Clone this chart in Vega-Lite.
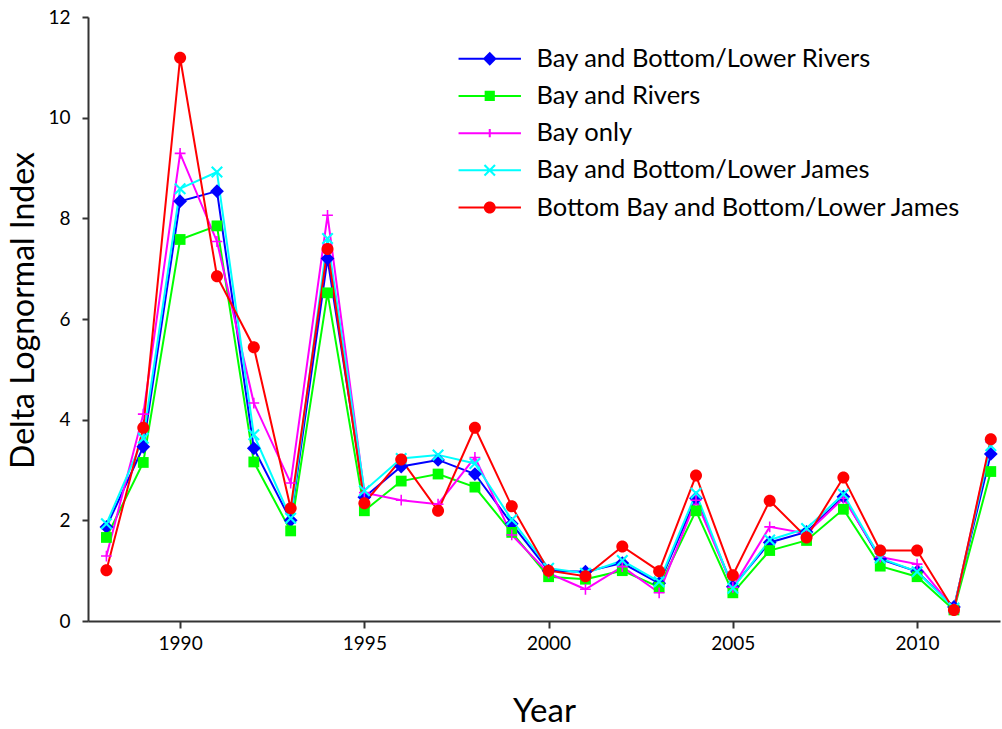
{
  "$schema": "https://vega.github.io/schema/vega-lite/v6.json",
  "width": 912,
  "height": 604,
  "autosize": {"type": "none"},
  "padding": {"left": 88, "top": 17, "right": 2, "bottom": 108},
  "background": "white",
  "config": {"view": {"stroke": null}, "font": "Lato"},
  "data": {"values": [
    {"Year":1988,"Series":"Bay and Bottom/Lower Rivers","Value":1.87},{"Year":1988,"Series":"Bay and Rivers","Value":1.66},{"Year":1988,"Series":"Bay only","Value":1.29},{"Year":1988,"Series":"Bay and Bottom/Lower James","Value":1.93},{"Year":1988,"Series":"Bottom Bay and Bottom/Lower James","Value":1.01},
    {"Year":1989,"Series":"Bay and Bottom/Lower Rivers","Value":3.46},{"Year":1989,"Series":"Bay and Rivers","Value":3.15},{"Year":1989,"Series":"Bay only","Value":4.11},{"Year":1989,"Series":"Bay and Bottom/Lower James","Value":3.63},{"Year":1989,"Series":"Bottom Bay and Bottom/Lower James","Value":3.84},
    {"Year":1990,"Series":"Bay and Bottom/Lower Rivers","Value":8.34},{"Year":1990,"Series":"Bay and Rivers","Value":7.58},{"Year":1990,"Series":"Bay only","Value":9.29},{"Year":1990,"Series":"Bay and Bottom/Lower James","Value":8.59},{"Year":1990,"Series":"Bottom Bay and Bottom/Lower James","Value":11.19},
    {"Year":1991,"Series":"Bay and Bottom/Lower Rivers","Value":8.54},{"Year":1991,"Series":"Bay and Rivers","Value":7.85},{"Year":1991,"Series":"Bay only","Value":7.54},{"Year":1991,"Series":"Bay and Bottom/Lower James","Value":8.92},{"Year":1991,"Series":"Bottom Bay and Bottom/Lower James","Value":6.85},
    {"Year":1992,"Series":"Bay and Bottom/Lower Rivers","Value":3.43},{"Year":1992,"Series":"Bay and Rivers","Value":3.16},{"Year":1992,"Series":"Bay only","Value":4.33},{"Year":1992,"Series":"Bay and Bottom/Lower James","Value":3.70},{"Year":1992,"Series":"Bottom Bay and Bottom/Lower James","Value":5.44},
    {"Year":1993,"Series":"Bay and Bottom/Lower Rivers","Value":2.00},{"Year":1993,"Series":"Bay and Rivers","Value":1.79},{"Year":1993,"Series":"Bay only","Value":2.74},{"Year":1993,"Series":"Bay and Bottom/Lower James","Value":2.04},{"Year":1993,"Series":"Bottom Bay and Bottom/Lower James","Value":2.24},
    {"Year":1994,"Series":"Bay and Bottom/Lower Rivers","Value":7.20},{"Year":1994,"Series":"Bay and Rivers","Value":6.52},{"Year":1994,"Series":"Bay only","Value":8.06},{"Year":1994,"Series":"Bay and Bottom/Lower James","Value":7.60},{"Year":1994,"Series":"Bottom Bay and Bottom/Lower James","Value":7.39},
    {"Year":1995,"Series":"Bay and Bottom/Lower Rivers","Value":2.46},{"Year":1995,"Series":"Bay and Rivers","Value":2.19},{"Year":1995,"Series":"Bay only","Value":2.55},{"Year":1995,"Series":"Bay and Bottom/Lower James","Value":2.59},{"Year":1995,"Series":"Bottom Bay and Bottom/Lower James","Value":2.34},
    {"Year":1996,"Series":"Bay and Bottom/Lower Rivers","Value":3.07},{"Year":1996,"Series":"Bay and Rivers","Value":2.78},{"Year":1996,"Series":"Bay only","Value":2.40},{"Year":1996,"Series":"Bay and Bottom/Lower James","Value":3.23},{"Year":1996,"Series":"Bottom Bay and Bottom/Lower James","Value":3.21},
    {"Year":1997,"Series":"Bay and Bottom/Lower Rivers","Value":3.20},{"Year":1997,"Series":"Bay and Rivers","Value":2.92},{"Year":1997,"Series":"Bay only","Value":2.32},{"Year":1997,"Series":"Bay and Bottom/Lower James","Value":3.30},{"Year":1997,"Series":"Bottom Bay and Bottom/Lower James","Value":2.19},
    {"Year":1998,"Series":"Bay and Bottom/Lower Rivers","Value":2.92},{"Year":1998,"Series":"Bay and Rivers","Value":2.66},{"Year":1998,"Series":"Bay only","Value":3.25},{"Year":1998,"Series":"Bay and Bottom/Lower James","Value":3.13},{"Year":1998,"Series":"Bottom Bay and Bottom/Lower James","Value":3.84},
    {"Year":1999,"Series":"Bay and Bottom/Lower Rivers","Value":1.93},{"Year":1999,"Series":"Bay and Rivers","Value":1.76},{"Year":1999,"Series":"Bay only","Value":1.71},{"Year":1999,"Series":"Bay and Bottom/Lower James","Value":2.01},{"Year":1999,"Series":"Bottom Bay and Bottom/Lower James","Value":2.28},
    {"Year":2000,"Series":"Bay and Bottom/Lower Rivers","Value":1.00},{"Year":2000,"Series":"Bay and Rivers","Value":0.88},{"Year":2000,"Series":"Bay only","Value":0.95},{"Year":2000,"Series":"Bay and Bottom/Lower James","Value":1.05},{"Year":2000,"Series":"Bottom Bay and Bottom/Lower James","Value":1.00},
    {"Year":2001,"Series":"Bay and Bottom/Lower Rivers","Value":0.98},{"Year":2001,"Series":"Bay and Rivers","Value":0.83},{"Year":2001,"Series":"Bay only","Value":0.63},{"Year":2001,"Series":"Bay and Bottom/Lower James","Value":0.95},{"Year":2001,"Series":"Bottom Bay and Bottom/Lower James","Value":0.89},
    {"Year":2002,"Series":"Bay and Bottom/Lower Rivers","Value":1.15},{"Year":2002,"Series":"Bay and Rivers","Value":1.00},{"Year":2002,"Series":"Bay only","Value":1.08},{"Year":2002,"Series":"Bay and Bottom/Lower James","Value":1.20},{"Year":2002,"Series":"Bottom Bay and Bottom/Lower James","Value":1.48},
    {"Year":2003,"Series":"Bay and Bottom/Lower Rivers","Value":0.75},{"Year":2003,"Series":"Bay and Rivers","Value":0.67},{"Year":2003,"Series":"Bay only","Value":0.56},{"Year":2003,"Series":"Bay and Bottom/Lower James","Value":0.78},{"Year":2003,"Series":"Bottom Bay and Bottom/Lower James","Value":0.99},
    {"Year":2004,"Series":"Bay and Bottom/Lower Rivers","Value":2.44},{"Year":2004,"Series":"Bay and Rivers","Value":2.19},{"Year":2004,"Series":"Bay only","Value":2.40},{"Year":2004,"Series":"Bay and Bottom/Lower James","Value":2.54},{"Year":2004,"Series":"Bottom Bay and Bottom/Lower James","Value":2.89},
    {"Year":2005,"Series":"Bay and Bottom/Lower Rivers","Value":0.68},{"Year":2005,"Series":"Bay and Rivers","Value":0.56},{"Year":2005,"Series":"Bay only","Value":0.67},{"Year":2005,"Series":"Bay and Bottom/Lower James","Value":0.65},{"Year":2005,"Series":"Bottom Bay and Bottom/Lower James","Value":0.91},
    {"Year":2006,"Series":"Bay and Bottom/Lower Rivers","Value":1.56},{"Year":2006,"Series":"Bay and Rivers","Value":1.40},{"Year":2006,"Series":"Bay only","Value":1.87},{"Year":2006,"Series":"Bay and Bottom/Lower James","Value":1.61},{"Year":2006,"Series":"Bottom Bay and Bottom/Lower James","Value":2.39},
    {"Year":2007,"Series":"Bay and Bottom/Lower Rivers","Value":1.77},{"Year":2007,"Series":"Bay and Rivers","Value":1.60},{"Year":2007,"Series":"Bay only","Value":1.74},{"Year":2007,"Series":"Bay and Bottom/Lower James","Value":1.84},{"Year":2007,"Series":"Bottom Bay and Bottom/Lower James","Value":1.66},
    {"Year":2008,"Series":"Bay and Bottom/Lower Rivers","Value":2.47},{"Year":2008,"Series":"Bay and Rivers","Value":2.22},{"Year":2008,"Series":"Bay only","Value":2.44},{"Year":2008,"Series":"Bay and Bottom/Lower James","Value":2.52},{"Year":2008,"Series":"Bottom Bay and Bottom/Lower James","Value":2.85},
    {"Year":2009,"Series":"Bay and Bottom/Lower Rivers","Value":1.23},{"Year":2009,"Series":"Bay and Rivers","Value":1.09},{"Year":2009,"Series":"Bay only","Value":1.27},{"Year":2009,"Series":"Bay and Bottom/Lower James","Value":1.25},{"Year":2009,"Series":"Bottom Bay and Bottom/Lower James","Value":1.40},
    {"Year":2010,"Series":"Bay and Bottom/Lower Rivers","Value":0.98},{"Year":2010,"Series":"Bay and Rivers","Value":0.88},{"Year":2010,"Series":"Bay only","Value":1.13},{"Year":2010,"Series":"Bay and Bottom/Lower James","Value":0.98},{"Year":2010,"Series":"Bottom Bay and Bottom/Lower James","Value":1.40},
    {"Year":2011,"Series":"Bay and Bottom/Lower Rivers","Value":0.28},{"Year":2011,"Series":"Bay and Rivers","Value":0.22},{"Year":2011,"Series":"Bay only","Value":0.24},{"Year":2011,"Series":"Bay and Bottom/Lower James","Value":0.26},{"Year":2011,"Series":"Bottom Bay and Bottom/Lower James","Value":0.22},
    {"Year":2012,"Series":"Bay and Bottom/Lower Rivers","Value":3.32},{"Year":2012,"Series":"Bay and Rivers","Value":2.97},{"Year":2012,"Series":"Bay only","Value":3.55},{"Year":2012,"Series":"Bay and Bottom/Lower James","Value":3.48},{"Year":2012,"Series":"Bottom Bay and Bottom/Lower James","Value":3.61}
  ]},
  "encoding": {
    "x": {
      "field": "Year", "type": "quantitative",
      "scale": {"domain": [1987.5, 2012.25], "nice": false, "zero": false},
      "axis": {
        "values": [1990, 1995, 2000, 2005, 2010], "format": "d", "grid": false,
        "title": "Year", "titleFont": "Lato", "titleFontSize": 33, "titleFontWeight": "normal", "titleColor": "black", "titlePadding": 42,
        "labelFont": "Lato", "labelFontSize": 19, "labelColor": "black", "labelPadding": 6,
        "tickSize": 7, "tickWidth": 2, "tickColor": "#333333", "domainColor": "#333333", "domainWidth": 2
      }
    },
    "y": {
      "field": "Value", "type": "quantitative",
      "scale": {"domain": [0, 12], "nice": false},
      "axis": {
        "values": [0, 2, 4, 6, 8, 10, 12], "grid": false,
        "title": "Delta Lognormal Index", "titleFont": "Lato", "titleFontSize": 32, "titleFontWeight": "normal", "titleColor": "black", "titlePadding": 7, "titleY": 293,
        "labelFont": "Lato", "labelFontSize": 19, "labelColor": "black", "labelPadding": 12,
        "tickSize": 6, "tickWidth": 2, "tickColor": "#333333", "domainColor": "#333333", "domainWidth": 2
      }
    },
    "color": {
      "field": "Series", "type": "nominal",
      "scale": {
        "domain": ["Bay and Bottom/Lower Rivers", "Bay and Rivers", "Bay only", "Bay and Bottom/Lower James", "Bottom Bay and Bottom/Lower James"],
        "range": ["#0000FF", "#00FF00", "#FF00FF", "#00FFFF", "#FF0000"]
      },
      "legend": {
        "title": null, "orient": "none", "legendX": 389, "legendY": 29, "padding": 0,
        "labelFont": "Lato", "labelFontSize": 25.5, "labelColor": "black", "labelOffset": 34, "labelLimit": 500,
        "symbolSize": 144, "rowPadding": 10.2,
        "encode": {
          "symbols": {
            "update": {
              "shape": {"signal": "datum.value === 'Bay and Bottom/Lower Rivers' ? 'M0,-1.15L1.15,0L0,1.15L-1.15,0ZM-5.2,-0.17L5.2,-0.17L5.2,0.17L-5.2,0.17Z' : datum.value === 'Bay and Rivers' ? 'M-0.85,-0.85L0.85,-0.85L0.85,0.85L-0.85,0.85ZM-5.2,-0.17L5.2,-0.17L5.2,0.17L-5.2,0.17Z' : datum.value === 'Bay only' ? 'M-0.17,-0.7L0.17,-0.7L0.17,0.7L-0.17,0.7ZM-5.2,-0.17L5.2,-0.17L5.2,0.17L-5.2,0.17Z' : datum.value === 'Bay and Bottom/Lower James' ? 'M-1,-0.75L-0.75,-1L0,-0.25L0.75,-1L1,-0.75L0.25,0L1,0.75L0.75,1L0,0.25L-0.75,1L-1,0.75L-0.25,0ZM-5.2,-0.17L5.2,-0.17L5.2,0.17L-5.2,0.17Z' : 'M-1,0A1,1,0,1,1,1,0A1,1,0,1,1,-1,0ZM-5.2,-0.17L5.2,-0.17L5.2,0.17L-5.2,0.17Z'"},
              "fill": {"signal": "scale('color', datum.value)"},
              "stroke": {"value": "transparent"},
              "strokeWidth": {"value": 0},
              "opacity": {"value": 1},
              "fillOpacity": {"value": 1}
            }
          }
        }
      }
    }
  },
  "layer": [
    {"mark": {"type": "line", "strokeWidth": 2}},
    {
      "transform": [{"filter": "datum.Series === 'Bay and Bottom/Lower Rivers'"}],
      "mark": {"type": "point", "filled": true, "opacity": 1, "size": 144, "shape": "M0,-1.15L1.15,0L0,1.15L-1.15,0Z"}
    },
    {
      "transform": [{"filter": "datum.Series === 'Bay and Rivers'"}],
      "mark": {"type": "point", "filled": true, "opacity": 1, "size": 144, "shape": "M-0.9,-0.9H0.9V0.9H-0.9Z"}
    },
    {
      "transform": [{"filter": "datum.Series === 'Bay only'"}],
      "mark": {"type": "point", "filled": true, "opacity": 1, "size": 144, "shape": "M-0.13,-0.9H0.13V-0.13H0.9V0.13H0.13V0.9H-0.13V0.13H-0.9V-0.13H-0.13Z"}
    },
    {
      "transform": [{"filter": "datum.Series === 'Bay and Bottom/Lower James'"}],
      "mark": {"type": "point", "filled": true, "opacity": 1, "size": 144, "shape": "M-1,-0.75L-0.75,-1L0,-0.25L0.75,-1L1,-0.75L0.25,0L1,0.75L0.75,1L0,0.25L-0.75,1L-1,0.75L-0.25,0Z"}
    },
    {
      "transform": [{"filter": "datum.Series === 'Bottom Bay and Bottom/Lower James'"}],
      "mark": {"type": "point", "filled": true, "opacity": 1, "size": 144, "shape": "M-1,0A1,1,0,1,1,1,0A1,1,0,1,1,-1,0Z"}
    }
  ]
}
